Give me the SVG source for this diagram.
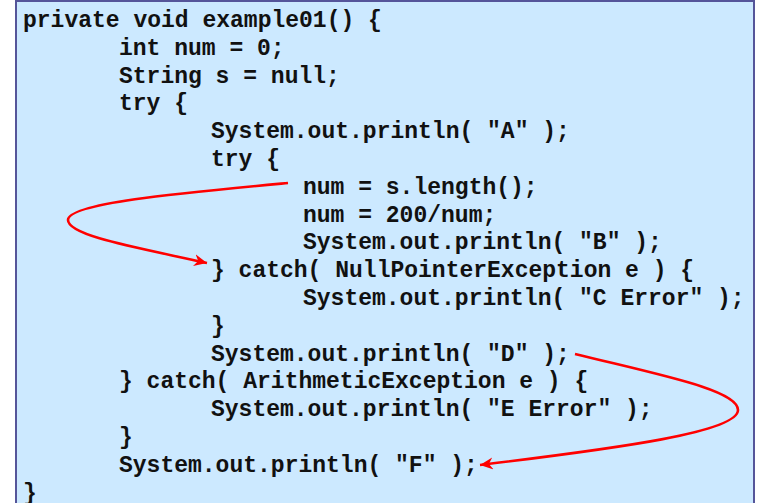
<svg xmlns="http://www.w3.org/2000/svg" width="758" height="503" viewBox="0 0 758 503">
  <style>
    .code { font-family: "Liberation Mono", "Courier New", monospace; font-weight: bold; font-size: 23px; fill: #111111; white-space: pre; }
    .flow { fill: none; stroke: #ff0000; stroke-width: 2.6; }
  </style>
  <defs>
    <marker id="arrow" markerUnits="userSpaceOnUse" markerWidth="16" markerHeight="14" refX="13" refY="6" orient="auto">
      <path d="M0,0 L13,6 L0,12 L4,6 z" fill="#ff0000"/>
    </marker>
  </defs>
  <rect x="0" y="0" width="758" height="503" fill="#ffffff"/>
  <g id="listing-box">
    <rect x="16" y="1" width="738" height="530" fill="#cce9ff" stroke="#55559a" stroke-width="2"/>
  </g>
  <g id="code">
    <text class="code" x="23" y="27">private void example01() {</text>
    <text class="code" x="119" y="54.8">int num = 0;</text>
    <text class="code" x="119" y="82.6">String s = null;</text>
    <text class="code" x="119" y="110.4">try {</text>
    <text class="code" x="211" y="138.2">System.out.println( "A" );</text>
    <text class="code" x="211" y="166">try {</text>
    <text class="code" x="303" y="193.8">num = s.length();</text>
    <text class="code" x="303" y="221.6">num = 200/num;</text>
    <text class="code" x="303" y="249.4">System.out.println( "B" );</text>
    <text class="code" x="211" y="277.2">} catch( NullPointerException e ) {</text>
    <text class="code" x="303" y="305">System.out.println( "C Error" );</text>
    <text class="code" x="211" y="332.8">}</text>
    <text class="code" x="211" y="360.6">System.out.println( "D" );</text>
    <text class="code" x="119" y="388.4">} catch( ArithmeticException e ) {</text>
    <text class="code" x="211" y="416.2">System.out.println( "E Error" );</text>
    <text class="code" x="119" y="444">}</text>
    <text class="code" x="119" y="471.8">System.out.println( "F" );</text>
    <text class="code" x="23" y="499.6">}</text>
  </g>
  <g id="connectors">
    <path id="npe-jump" class="flow" marker-end="url(#arrow)" d="M288,183 C180,193 68,203 68,220 C68,236 140,248 207,263"/>
    <path id="arith-jump" class="flow" marker-end="url(#arrow)" d="M575,354 C660,375 738,390 738,410 C738,432 620,448 480,465"/>
  </g>
</svg>
